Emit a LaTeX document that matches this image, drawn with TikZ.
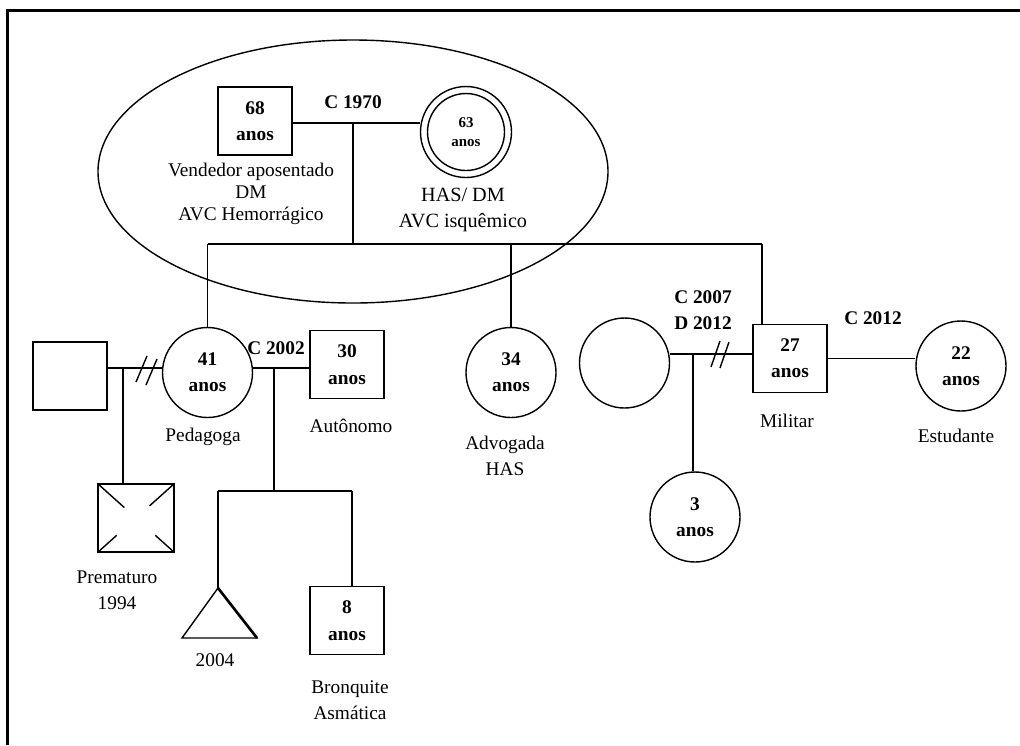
\documentclass[tikz,border=0pt]{standalone}
\usepackage{fontspec}
\setmainfont{Liberation Serif}
\usetikzlibrary{shapes.geometric,calc}
\begin{document}
\begin{tikzpicture}[x=0.2mm, y=0.2mm, line width=0.8pt]
\tikzstyle{every node}+=[inner sep=0pt, align=center, font=\fontsize{11}{14.7}\selectfont]
\tikzstyle{homem}=[draw, rectangle, minimum width=1.48cm, minimum height=1.36cm, font=\bfseries\fontsize{11}{15}\selectfont]
\tikzstyle{mulher}=[draw, circle, minimum size=1.8cm, font=\bfseries\fontsize{11}{15}\selectfont]
\tikzstyle{ano}=[font=\bfseries\fontsize{11}{14.7}\selectfont]
\useasboundingbox (0,0) rectangle (1020,-745);
\draw [line width=1.7pt] (7.5,-745) -- (7.5,-10.5) -- (1020,-10.5);
% avos
\node [draw, ellipse, minimum width=10.2cm, minimum height=5.26cm] (familia) at (353,-171.5) {};
\node [homem] (avo) at (255,-121) {68\\anos};
\node [mulher, minimum size=1.82cm, font=\bfseries\fontsize{8.5}{11}\selectfont] (avoh) at (466,-132) {63\\anos};
\draw (avoh.center) circle (38.5);
\node [ano] (c1970) at (353,-102) {C 1970};
\node [font=\fontsize{11}{12.5}\selectfont] (avoinfo) at (251,-194) {Vendedor aposentado\\DM\\AVC Hemorrágico};
\node [font=\fontsize{11.5}{14.7}\selectfont] (avohinfo) at (463,-210) {HAS/ DM\\AVC isquêmico};
\coordinate (j1) at (353,-123);
\coordinate (s1) at (353,-244);
\coordinate (sR) at (762,-244);
\draw (avo.east |- j1) -- (j1 -| avoh.west);
\draw (j1) -- (s1);
% filhos
\node [mulher] (pedagoga) at (207.5,-372.5) {41\\anos};
\node [mulher] (advogada) at (511,-372.5) {34\\anos};
\node [homem] (militar) at (790,-358.5) {27\\anos};
\draw (pedagoga.north |- s1) -- (sR);
\draw (pedagoga.north |- s1) -- (pedagoga.north);
\draw (advogada.north |- s1) -- (advogada.north);
\draw (sR) -- (sR |- militar.north);
\node (pedinfo) at (203,-437) {Pedagoga};
\node (advinfo) at (505,-456) {Advogada\\HAS};
\node (milinfo) at (787,-421) {Militar};
% pedagoga
\node [homem] (exmarido) at (70,-376) {};
\coordinate (j2) at (123,-368);
\draw (exmarido.east |- j2) -- (j2 -| pedagoga.west);
\draw (136,-382) -- (147,-356);
\draw (146,-385) -- (157,-359);
\node [homem, minimum width=1.52cm] (prematuro) at (136,-518) {};
\draw (j2) -- (j2 |- prematuro.north);
\draw (prematuro.north west) -- ($(prematuro.north west)!0.7!(prematuro.center)$);
\draw (prematuro.north east) -- ($(prematuro.north east)!0.65!(prematuro.center)$);
\draw (prematuro.south west) -- ($(prematuro.south west)!0.5!(prematuro.center)$);
\draw (prematuro.south east) -- ($(prematuro.south east)!0.5!(prematuro.center)$);
\node (preminfo) at (117,-590) {Prematuro\\1994};
\node [homem] (autonomo) at (347,-364.5) {30\\anos};
\node [ano] (c2002) at (276,-348) {C 2002};
\node (autinfo) at (351,-426) {Autônomo};
\coordinate (j3) at (274,-368);
\coordinate (s2) at (274,-491);
\coordinate (s2L) at (218,-491);
\coordinate (s2R) at (352,-491);
\draw (pedagoga.east |- j3) -- (j3 -| autonomo.west);
\draw (j3) -- (s2);
\draw (s2L) -- (s2R);
\coordinate (aborto) at (218,-588);
\draw (s2L) -- (aborto);
\draw (aborto) -- (257,-638) -- (182,-638) -- cycle;
\draw [line width=1.5pt] (aborto) -- (257,-638);
\node (abinfo) at (215,-660) {2004};
\node [homem] (neto) at (347,-620.5) {8\\anos};
\draw (s2R) -- (s2R |- neto.north);
\node (netoinfo) at (350,-700) {Bronquite\\Asmática};
% militar
\node [mulher] (exesposa) at (624.5,-363) {};
\coordinate (j4) at (693,-354);
\draw (j4 -| exesposa.east) -- (j4 -| militar.west);
\draw (711,-367) -- (720,-341);
\draw (720,-368) -- (729,-342);
\node [ano] (c2007) at (703,-310) {C 2007\\D 2012};
\node [mulher] (neta) at (695,-517) {3\\anos};
\draw (j4) -- (j4 |- neta.north);
\node [mulher] (estudante) at (961,-366) {22\\anos};
\draw (militar.east) -- (militar.east -| estudante.west);
\node [ano] (c2012) at (873,-318) {C 2012};
\node (estinfo) at (956,-436) {Estudante};
\end{tikzpicture}
\end{document}
